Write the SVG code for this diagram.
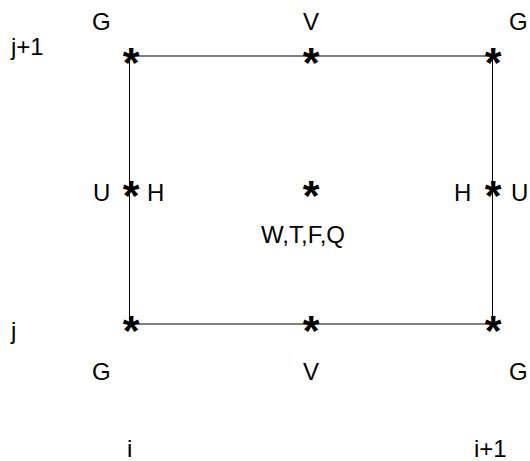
<svg xmlns="http://www.w3.org/2000/svg" width="530" height="461" viewBox="0 0 530 461">
<style>
.t{font-family:"Liberation Sans",Arial,sans-serif;font-size:24px;fill:#000}
.s{font-family:"Liberation Sans",Arial,sans-serif;font-size:43px;font-weight:bold;fill:#000;text-anchor:middle}
.l{stroke:#000;stroke-width:1;fill:none}
</style>
<rect width="530" height="461" fill="#fff"/>
<g id="connectors">
<line class="l" x1="129.5" y1="56" x2="492.5" y2="56"/>
<line class="l" x1="129.5" y1="324" x2="492.5" y2="324"/>
<line class="l" x1="129.5" y1="56" x2="129.5" y2="324"/>
<line class="l" x1="492.5" y1="56" x2="492.5" y2="324"/>
</g>
<g id="n_tl"><text class="s" x="131" y="77">*</text></g>
<g id="n_tm"><text class="s" x="311" y="77">*</text></g>
<g id="n_tr"><text class="s" x="493" y="77">*</text></g>
<g id="n_ml"><text class="s" x="131" y="210">*</text></g>
<g id="n_mm"><text class="s" x="311" y="210">*</text></g>
<g id="n_mr"><text class="s" x="493" y="210">*</text></g>
<g id="n_bl"><text class="s" x="131" y="345">*</text></g>
<g id="n_bm"><text class="s" x="311" y="345">*</text></g>
<g id="n_br"><text class="s" x="493" y="345">*</text></g>
<g id="labels">
<text class="t" x="92" y="30">G</text>
<text class="t" x="311" y="30" text-anchor="middle">V</text>
<text class="t" x="509" y="30">G</text>
<text class="t" x="11" y="55">j+1</text>
<text class="t" x="93" y="201">U</text>
<text class="t" x="147" y="201">H</text>
<text class="t" x="454" y="201">H</text>
<text class="t" x="511" y="201">U</text>
<text class="t" x="261" y="243">W,T,F,Q</text>
<text class="t" x="11" y="339">j</text>
<text class="t" x="92" y="380">G</text>
<text class="t" x="311" y="380" text-anchor="middle">V</text>
<text class="t" x="509" y="380">G</text>
<text class="t" x="127" y="457">i</text>
<text class="t" x="474" y="457">i+1</text>
</g>
</svg>
